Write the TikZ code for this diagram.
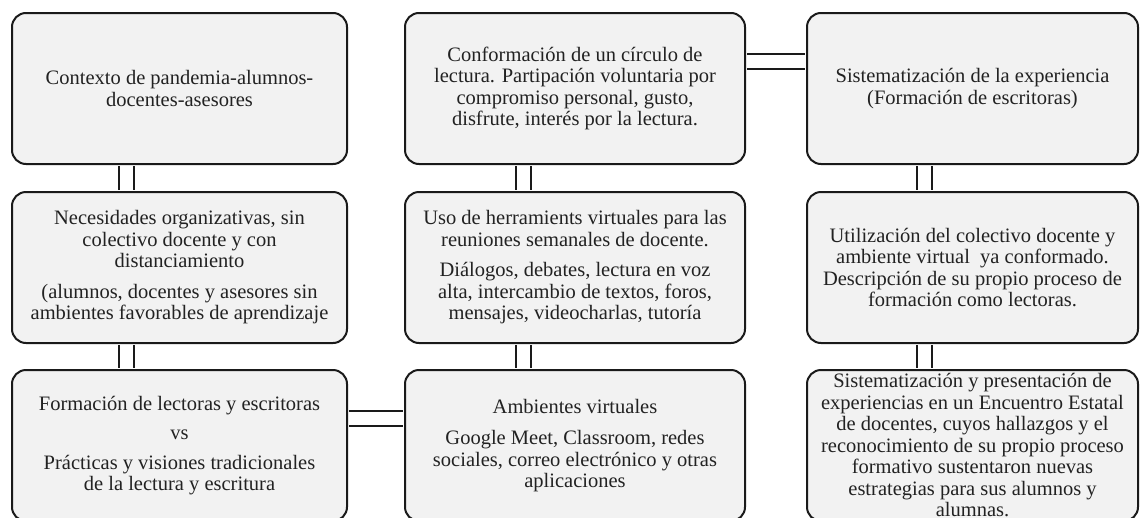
\documentclass[tikz,border=0pt]{standalone}
\usepackage{fontspec}
\setmainfont{Liberation Serif}
\usepackage{tikz}

\definecolor{cardfill}{HTML}{F2F2F2}
\definecolor{cardline}{HTML}{1A1A1A}
\definecolor{cardtext}{HTML}{222222}

\tikzset{
  card/.style={draw=cardline, fill=cardfill, line width=2pt, rounded corners=14pt,
    minimum height=151pt, inner sep=0pt, align=center, text=cardtext,
    font=\fontsize{20.5}{21.5}\selectfont},
  link/.style={draw=cardline, double=white, double distance=13pt, line width=2pt,
    shorten <=1pt, shorten >=1pt},
}

\begin{document}
\begin{tikzpicture}[x=1pt, y=-1pt]

\useasboundingbox[fill=white] (0,0) rectangle (1141,517);

% left column
\node[card, minimum width=335pt] (ctx)  at (179.5, 88.5)
  {Contexto de pandemia-alumnos-\\docentes-asesores};
\node[card, minimum width=335pt] (nec)  at (179.5, 267.5)
  {Necesidades organizativas, sin\\colectivo docente y con\\distanciamiento\\[9pt]
   (alumnos, docentes y asesores sin\\ambientes favorables de aprendizaje};
\node[card, minimum width=335pt] (form) at (179.5, 445.5)
  {Formación de lectoras y escritoras\\[8pt]vs\\[8pt]
   Prácticas y visiones tradicionales\\de la lectura y escritura};

% middle column
\node[card, minimum width=340pt] (circ) at (575, 88.5)
  {Conformación de un círculo de\\lectura. Partipación voluntaria por\\
   compromiso personal, gusto,\\disfrute, interés por la lectura.};
\node[card, minimum width=340pt] (herr) at (575, 267.5)
  {Uso de herramients virtuales para las\\reuniones semanales de docente.\\[9pt]
   Diálogos, debates, lectura en voz\\alta, intercambio de textos, foros,\\
   mensajes, videocharlas, tutoría};
\node[card, minimum width=340pt] (amb)  at (575, 445.5)
  {Ambientes virtuales\\[10pt]Google Meet, Classroom, redes\\
   sociales, correo electrónico y otras\\aplicaciones};

% right column
\node[card, minimum width=331pt] (sist) at (972.5, 88.5)
  {Sistematización de la experiencia\\(Formación de escritoras)};
\node[card, minimum width=331pt] (util) at (972.5, 267.5)
  {Utilización del colectivo docente y\\ambiente virtual\ \ ya conformado.\\
   Descripción de su propio proceso de\\formación como lectoras.};
\node[card, minimum width=331pt] (pres) at (972.5, 445.5)
  {Sistematización y presentación de\\experiencias en un Encuentro Estatal\\
   de docentes, cuyos hallazgos y el\\reconocimiento de su propio proceso\\
   formativo sustentaron nuevas\\estrategias para sus alumnos y\\alumnas.};

% double links
\draw[link] ([xshift=-53pt]ctx.south)  -- ([xshift=-53pt]nec.north);
\draw[link] ([xshift=-53pt]nec.south)  -- ([xshift=-53pt]form.north);
\draw[link] ([xshift=-52pt]circ.south) -- ([xshift=-52pt]herr.north);
\draw[link] ([xshift=-52pt]herr.south) -- ([xshift=-52pt]amb.north);
\draw[link] ([xshift=-48pt]sist.south) -- ([xshift=-48pt]util.north);
\draw[link] ([xshift=-48pt]util.south) -- ([xshift=-48pt]pres.north);
\draw[link] ([yshift=27pt]circ.east) -- ([yshift=27pt]sist.west);
\draw[link] ([yshift=27pt]form.east) -- ([yshift=27pt]amb.west);

\end{tikzpicture}
\end{document}
